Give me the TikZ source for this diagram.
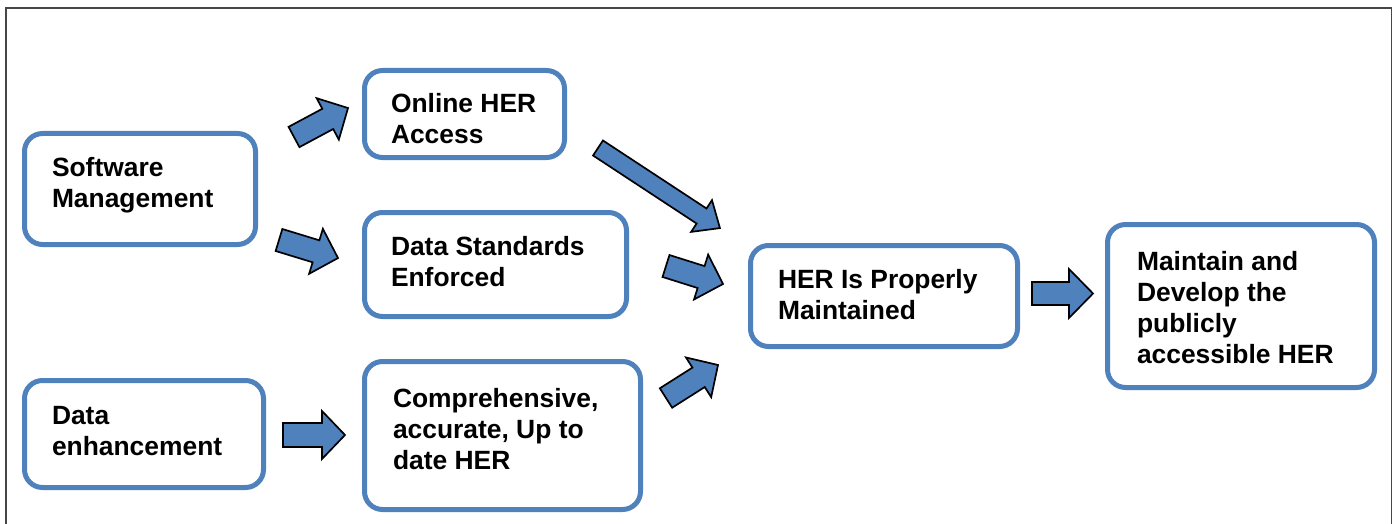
\documentclass[tikz,border=0pt]{standalone}
\usepackage{fontspec}
\setmainfont{Liberation Sans}
\usetikzlibrary{calc}
\definecolor{boxblue}{RGB}{79,129,189}
\definecolor{framegray}{RGB}{70,70,70}
\tikzset{
  flowbox/.style={draw=boxblue, line width=5pt, rounded corners=18pt, fill=white,
    inner sep=0pt, outer sep=0pt},
  boxtext/.style={anchor=north west, inner sep=0pt, outer sep=0pt, align=left,
    font=\fontsize{26.4}{31}\selectfont\bfseries},
  blockarrow/.style={draw=black, line width=1.7pt, fill=boxblue, line join=miter},
}
% #1 tail position, #2 angle, #3 length, #4 shaft half width, #5 head half width, #6 head length
\newcommand\fatarrow[6]{%
  \begin{scope}[shift={#1}, rotate=#2]
    \draw[blockarrow] (0,#4) -- ({#3-#6},#4) -- ({#3-#6},#5) -- (#3,0)
      -- ({#3-#6},-#5) -- ({#3-#6},-#4) -- (0,-#4) -- cycle;
  \end{scope}}
\begin{document}
\begin{tikzpicture}[x=1pt, y=-1pt]
\useasboundingbox (0,0) rectangle (1397,524);
\fill[white] (0,0) rectangle (1397,524);
% outer frame
\draw[framegray, line width=1.6pt] (6,530) -- (6,8) -- (1391.5,8) -- (1391.5,530);

% boxes
\node[flowbox, minimum width=231pt, minimum height=111pt] (sw) at (140,189) {};
\node[flowbox, minimum width=200pt, minimum height=87pt] (online) at (464.5,114) {};
\node[flowbox, minimum width=262pt, minimum height=104pt] (std) at (495.5,264.5) {};
\node[flowbox, minimum width=239pt, minimum height=107pt] (enh) at (144,434) {};
\node[flowbox, minimum width=276pt, minimum height=148pt] (comp) at (502.5,435.5) {};
\node[flowbox, minimum width=267pt, minimum height=101pt] (her) at (884,296) {};
\node[flowbox, minimum width=267pt, minimum height=163pt] (dev) at (1241,306) {};

% texts
\node[boxtext] (swt) at (52,157) {Software\\Management};
\node[boxtext] (onlinet) at (391,93) {Online HER\\Access};
\node[boxtext] (stdt) at (391,236) {Data Standards\\Enforced};
\node[boxtext] (enht) at (52,406) {Data\\enhancement};
\node[boxtext] (compt) at (393,388) {Comprehensive,\\accurate, Up to\\date HER};
\node[boxtext] (hert) at (778,269) {HER Is Properly\\Maintained};
\node[boxtext] (devt) at (1137,251) {Maintain and\\Develop the\\publicly\\accessible HER};

% block arrows
\fatarrow{(294,137)}{28.2}{61.3}{11.5}{23.5}{23}
\fatarrow{(279,240)}{-17.0}{61.7}{11.5}{23.5}{23}
\fatarrow{(598,148)}{-33.3}{145.9}{9}{19}{22}
\fatarrow{(666,266)}{-17.5}{59.8}{11.5}{23.5}{23}
\fatarrow{(666,398)}{32.4}{61.6}{11.5}{23.5}{23}
\fatarrow{(283,435)}{0}{62}{12}{24}{23}
\fatarrow{(1032,293.5)}{0}{61}{11.5}{24.5}{24}
\end{tikzpicture}
\end{document}
